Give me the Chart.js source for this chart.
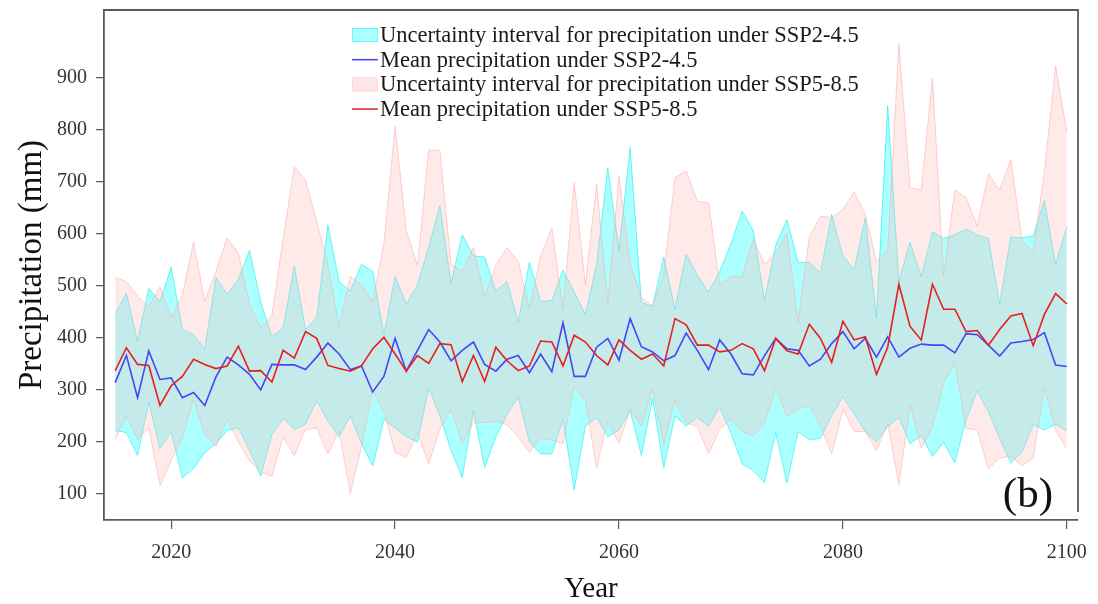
<!DOCTYPE html>
<html>
<head>
<meta charset="utf-8">
<script src="https://cdn.jsdelivr.net/npm/chart.js@4.4.1/dist/chart.umd.min.js"></script>
<style>
  html, body { margin: 0; padding: 0; background: #fff; }
  #wrap { width: 1098px; height: 604px; }
</style>
</head>
<body>
<div id="wrap"><canvas id="precipChart" width="1098" height="604"></canvas></div>
<script>
// Years 2015-2100
const years = [];
for (let y = 2015; y <= 2100; y++) years.push(y);

// SSP2-4.5: lower / upper bound of the interval and the ensemble mean (mm)
const ssp245Low = [
  222, 218, 174, 277, 187, 220, 131, 149, 179, 197,
  222, 227, 184, 134, 214, 245, 224, 234, 279, 240,
  210, 250, 197, 154, 243, 227, 210, 200, 303, 250,
  184, 131, 260, 151, 210, 253, 286, 200, 177, 177,
  243, 108, 230, 247, 210, 223, 260, 174, 283, 151,
  250, 230, 247, 230, 267, 217, 158, 145, 122, 218,
  121, 220, 204, 207, 250, 287, 254, 220, 200, 229,
  247, 197, 212, 172, 199, 160, 242, 298, 258, 207,
  159, 181, 233, 223, 234, 221
];
const ssp245High = [
  447, 485, 394, 495, 470, 536, 416, 406, 379, 516,
  484, 512, 568, 469, 402, 419, 538, 416, 439, 617,
  508, 490, 541, 528, 406, 518, 465, 502, 574, 654,
  505, 598, 558, 555, 490, 508, 430, 545, 470, 472,
  530, 488, 445, 541, 727, 568, 766, 468, 461, 555,
  455, 561, 521, 488, 528, 581, 644, 606, 472, 578,
  627, 545, 545, 525, 637, 558, 531, 631, 439, 846,
  508, 584, 518, 604, 591, 598, 609, 598, 591, 465,
  594, 592, 596, 664, 541, 614
];
const ssp245Mean = [
  314, 366, 285, 375, 320, 323, 285, 295, 270, 325,
  363, 348, 330, 300, 349, 348, 348, 339, 363, 390,
  369, 339, 346, 296, 326, 399, 336, 376, 416, 392,
  356, 376, 392, 349, 336, 359, 366, 333, 369, 335,
  429, 326, 326, 382, 399, 357, 437, 383, 373, 356,
  366, 409, 376, 339, 396, 369, 331, 329, 366, 399,
  379, 376, 346, 359, 389, 412, 379, 399, 363, 402,
  363, 380, 388, 386, 386, 371, 408, 406, 386, 365,
  390, 393, 397, 410, 348, 345
];

// SSP5-8.5: lower / upper bound of the interval and the ensemble mean (mm)
const ssp585Low = [
  204, 250, 205, 227, 116, 164, 207, 283, 214, 191,
  244, 200, 164, 143, 134, 210, 174, 224, 227, 177,
  221, 101, 191, 300, 257, 180, 170, 217, 158, 224,
  263, 197, 237, 237, 240, 233, 210, 180, 207, 204,
  197, 307, 280, 151, 240, 197, 263, 230, 303, 194,
  280, 237, 230, 177, 224, 244, 220, 212, 237, 303,
  250, 263, 270, 230, 177, 263, 220, 220, 184, 236,
  117, 271, 188, 229, 313, 351, 226, 223, 148, 169,
  172, 154, 169, 306, 223, 186
];
const ssp585High = [
  516, 508, 480, 460, 498, 439, 482, 584, 470, 528,
  592, 563, 465, 419, 443, 590, 729, 703, 623, 541,
  422, 518, 502, 469, 581, 806, 607, 538, 761, 760,
  541, 528, 574, 478, 540, 573, 548, 455, 558, 611,
  455, 699, 502, 696, 465, 712, 541, 478, 461, 521,
  708, 721, 662, 660, 502, 518, 518, 590, 541, 564,
  601, 429, 594, 634, 631, 647, 680, 637, 548, 568,
  965, 688, 684, 899, 518, 684, 670, 615, 715, 684,
  743, 588, 564, 720, 922, 796
];
const ssp585Mean = [
  337, 381, 349, 347, 270, 308, 326, 359, 349, 341,
  346, 384, 336, 337, 315, 376, 361, 412, 399, 347,
  341, 336, 346, 379, 401, 369, 336, 366, 351, 389,
  387, 316, 366, 316, 382, 356, 337, 346, 394, 392,
  346, 405, 392, 366, 348, 396, 376, 359, 369, 346,
  437, 425, 386, 386, 373, 376, 389, 379, 337, 399,
  375, 369, 426, 399, 353, 432, 396, 402, 330, 382,
  503, 422, 396, 503, 455, 455, 412, 414, 386, 416,
  442, 447, 385, 445, 485, 465
];

const xTicks = [2020, 2040, 2060, 2080, 2100];
const yTicks = [100, 200, 300, 400, 500, 600, 700, 800, 900];

const legendLabels = [
  'Uncertainty interval for precipitation under SSP2-4.5',
  'Mean precipitation under SSP2-4.5',
  'Uncertainty interval for precipitation under SSP5-8.5',
  'Mean precipitation under SSP5-8.5'
];
const panelTag = '(b)';

const FONT = 'Liberation Serif, Times New Roman, serif';
const cyanFill = 'rgba(0, 255, 255, 0.33)';
const cyanEdge = 'rgba(0, 235, 235, 0.55)';
const pinkFill = 'rgba(255, 185, 185, 0.30)';
const pinkEdge = 'rgba(255, 170, 170, 0.55)';
const blueLine = 'rgb(70, 70, 245)';
const redLine = 'rgb(232, 30, 30)';
const frameColor = '#5a5a5a';

function pts(values) {
  return values.map((v, i) => ({ x: years[i], y: v }));
}

// legend drawn inside the plot area, plus top/right frame and panel tag
const insideLegend = {
  id: 'insideLegend',
  afterDraw(chart) {
    const { ctx, chartArea } = chart;
    ctx.save();

    // top and right edges of the frame
    ctx.strokeStyle = frameColor;
    ctx.lineWidth = 1.8;
    ctx.beginPath();
    ctx.moveTo(chartArea.left, chartArea.top);
    ctx.lineTo(chartArea.right, chartArea.top);
    ctx.lineTo(chartArea.right, chartArea.bottom - 8);
    ctx.stroke();

    const lx = chartArea.left + 248;
    const ly = chartArea.top + 25;
    const dy = 24.7;
    const styles = [
      { box: true, fill: 'rgb(170, 255, 255)', stroke: 'rgb(100, 250, 250)' },
      { box: false, stroke: blueLine },
      { box: true, fill: 'rgb(255, 230, 230)', stroke: 'rgb(255, 215, 215)' },
      { box: false, stroke: redLine }
    ];
    ctx.font = '22.5px ' + FONT;
    ctx.textBaseline = 'middle';
    ctx.textAlign = 'left';
    legendLabels.forEach((txt, i) => {
      const cy = ly + i * dy;
      const st = styles[i];
      if (st.box) {
        ctx.fillStyle = st.fill;
        ctx.fillRect(lx, cy - 7, 26, 14);
        ctx.strokeStyle = st.stroke;
        ctx.lineWidth = 1;
        ctx.strokeRect(lx + 0.5, cy - 6.5, 25, 13);
      } else {
        ctx.strokeStyle = st.stroke;
        ctx.lineWidth = 1.5;
        ctx.beginPath();
        ctx.moveTo(lx, cy);
        ctx.lineTo(lx + 26, cy);
        ctx.stroke();
      }
      ctx.fillStyle = '#1a1a1a';
      ctx.fillText(txt, lx + 28, cy + 1);
    });

    ctx.font = '43px ' + FONT;
    ctx.textAlign = 'right';
    ctx.textBaseline = 'alphabetic';
    ctx.fillStyle = '#111';
    ctx.fillText(panelTag, chartArea.right - 25, chartArea.bottom - 13);
    ctx.restore();
  }
};

const ctx = document.getElementById('precipChart').getContext('2d');
new Chart(ctx, {
  type: 'line',
  data: {
    datasets: [
      { label: 'SSP2-4.5 lower', data: pts(ssp245Low), borderColor: cyanEdge, borderWidth: 1, pointRadius: 0, fill: false, order: 6 },
      { label: 'SSP2-4.5 upper', data: pts(ssp245High), borderColor: cyanEdge, borderWidth: 1, pointRadius: 0, fill: '-1', backgroundColor: cyanFill, order: 5 },
      { label: 'SSP5-8.5 lower', data: pts(ssp585Low), borderColor: pinkEdge, borderWidth: 1, pointRadius: 0, fill: false, order: 4 },
      { label: 'SSP5-8.5 upper', data: pts(ssp585High), borderColor: pinkEdge, borderWidth: 1, pointRadius: 0, fill: '-1', backgroundColor: pinkFill, order: 3 },
      { label: 'SSP2-4.5 mean', data: pts(ssp245Mean), borderColor: blueLine, borderWidth: 1.6, pointRadius: 0, fill: false, order: 2 },
      { label: 'SSP5-8.5 mean', data: pts(ssp585Mean), borderColor: redLine, borderWidth: 1.6, pointRadius: 0, fill: false, order: 1 }
    ]
  },
  options: {
    responsive: false,
    animation: false,
    layout: { padding: { left: 13, right: 20, top: 10, bottom: 0 } },
    plugins: {
      legend: { display: false },
      tooltip: { enabled: false }
    },
    elements: { line: { tension: 0 } },
    scales: {
      x: {
        type: 'linear',
        min: 2014,
        max: 2101,
        afterBuildTicks: s => { s.ticks = xTicks.map(v => ({ value: v })); },
        afterFit: s => { s.height = 84; s.paddingLeft = 0; s.paddingRight = 0; },
        grid: { drawOnChartArea: false, drawTicks: true, tickLength: 9, color: frameColor, lineWidth: 1.2 },
        border: { display: true, color: frameColor, width: 1.8 },
        ticks: {
          font: { family: FONT, size: 20 },
          color: '#333',
          padding: 12,
          maxRotation: 0,
          callback: v => String(v)
        },
        title: { display: true, text: 'Year', font: { family: FONT, size: 29, lineHeight: 1.0 }, color: '#111', padding: 0 }
      },
      y: {
        min: 50,
        max: 1030,
        afterBuildTicks: s => { s.ticks = yTicks.map(v => ({ value: v })); },
        afterFit: s => { s.width = 91; s.paddingTop = 0; s.paddingBottom = 0; },
        grid: { drawOnChartArea: false, drawTicks: true, tickLength: 8, color: frameColor, lineWidth: 1.2 },
        border: { display: true, color: frameColor, width: 1.8 },
        ticks: {
          font: { family: FONT, size: 20 },
          color: '#333',
          padding: 9,
          callback: v => String(v)
        },
        title: { display: true, text: 'Precipitation (mm)', font: { family: FONT, size: 33 }, color: '#111', padding: 0 }
      }
    }
  },
  plugins: [insideLegend]
});
</script>
</body>
</html>
